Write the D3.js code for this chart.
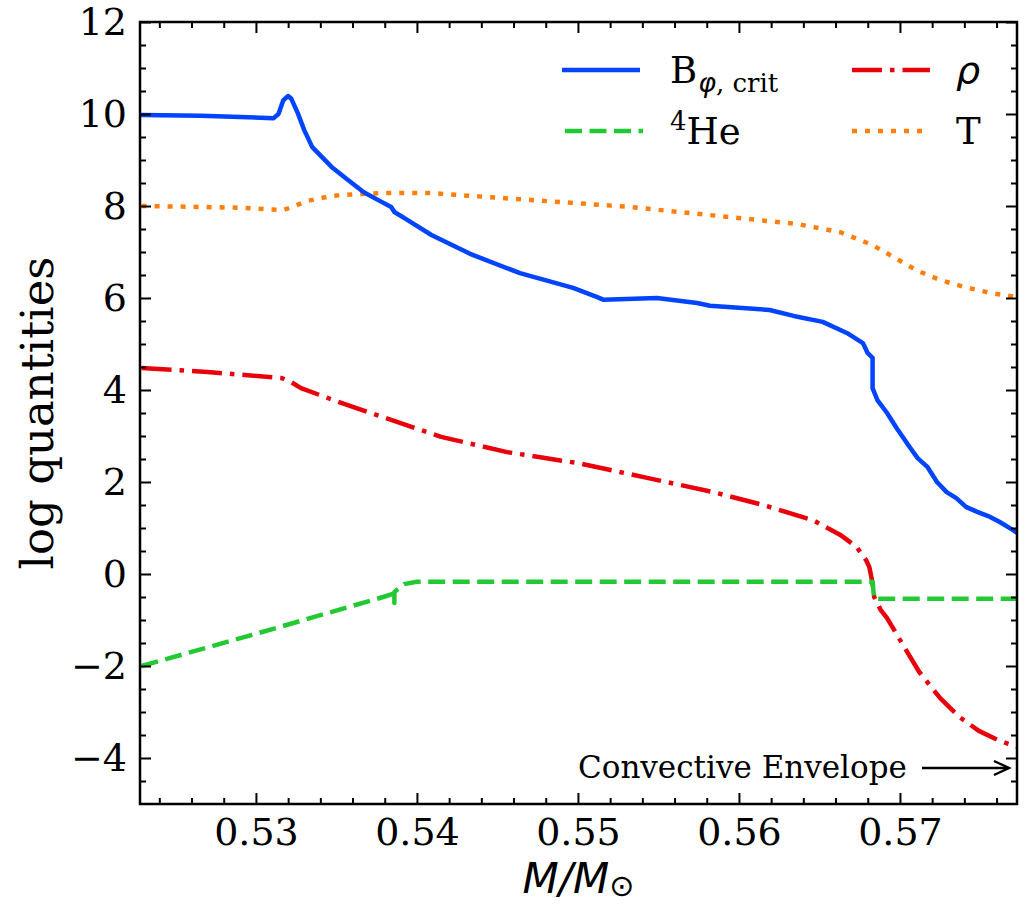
<!DOCTYPE html>
<html>
<head>
<meta charset="utf-8">
<script src="https://cdn.jsdelivr.net/npm/d3@7"></script>
<style>
  html, body { margin: 0; padding: 0; background: #fff; }
  svg { display: block; }
</style>
</head>
<body>
<svg id="chart" width="1026" height="907"></svg>
<script>
// ---- data (mass coordinate M/Msun, log value) ----
const bCrit = [
  [0.5229, 9.98], [0.5266, 9.96], [0.5311, 9.91], [0.5314, 10.0], [0.5317, 10.30],
  [0.5320, 10.39], [0.5322, 10.33], [0.5326, 10.02], [0.5330, 9.65], [0.5335, 9.28],
  [0.5347, 8.85], [0.5357, 8.57], [0.5367, 8.30], [0.5378, 8.09], [0.5384, 7.98],
  [0.5386, 7.87], [0.5394, 7.70], [0.5409, 7.37], [0.5433, 6.96], [0.5464, 6.54],
  [0.5497, 6.22], [0.5512, 6.02], [0.5516, 5.96], [0.5549, 6.00], [0.5574, 5.89],
  [0.5582, 5.83], [0.5619, 5.74], [0.5634, 5.61], [0.5652, 5.48], [0.5667, 5.24],
  [0.5677, 5.02], [0.5680, 4.80], [0.5683, 4.70], [0.5683, 4.04], [0.5686, 3.78],
  [0.5692, 3.50], [0.5698, 3.17], [0.5706, 2.76], [0.5711, 2.52], [0.5717, 2.33],
  [0.5723, 2.00], [0.5729, 1.78], [0.5735, 1.65], [0.5741, 1.46], [0.5748, 1.35],
  [0.5756, 1.24], [0.5762, 1.13], [0.5770, 0.96], [0.5773, 0.89]
];
const he4 = [
  [0.5229, -2.00], [0.5305, -1.25], [0.5379, -0.50], [0.5385, -0.43], [0.5386, -0.63],
  [0.5386, -0.39], [0.5392, -0.22], [0.5400, -0.17], [0.5683, -0.17], [0.5684, -0.54],
  [0.5773, -0.54]
];
const rho = [
  [0.5229, 4.48], [0.5270, 4.39], [0.5316, 4.26], [0.5322, 4.17], [0.5328, 4.04],
  [0.5353, 3.72], [0.5384, 3.35], [0.5415, 2.98], [0.5456, 2.65], [0.5500, 2.41],
  [0.5543, 2.09], [0.5584, 1.78], [0.5615, 1.50], [0.5646, 1.17], [0.5663, 0.85],
  [0.5673, 0.59], [0.5679, 0.30], [0.5681, 0.15], [0.5683, -0.20], [0.5684, -0.50],
  [0.5688, -0.78], [0.5692, -0.96], [0.5700, -1.43], [0.5712, -2.13], [0.5725, -2.70],
  [0.5737, -3.11], [0.5749, -3.41], [0.5762, -3.63], [0.5773, -3.76]
];
const temp = [
  [0.5229, 8.00], [0.5266, 7.98], [0.5293, 7.96], [0.5317, 7.91], [0.5324, 8.00],
  [0.5332, 8.11], [0.5347, 8.22], [0.5363, 8.26], [0.5378, 8.28], [0.5409, 8.28],
  [0.5471, 8.13], [0.5532, 7.98], [0.5594, 7.76], [0.5636, 7.61], [0.5663, 7.43],
  [0.5683, 7.15], [0.5698, 6.85], [0.5711, 6.59], [0.5725, 6.39], [0.5740, 6.24],
  [0.5756, 6.11], [0.5773, 6.02]
];
const xTicks = [0.53, 0.54, 0.55, 0.56, 0.57];
const yTicks = [-4, -2, 0, 2, 4, 6, 8, 10, 12];
const xDomain = [0.5228, 0.57727];
const yDomain = [-5, 12];
const annotationText = "Convective Envelope";

// ---- layout ----
const L = 140, R = 1017, T = 22, B = 804;
const svg = d3.select("#chart");
const x = d3.scaleLinear().domain(xDomain).range([L, R]);
const y = d3.scaleLinear().domain(yDomain).range([B, T]);

const serif = "DejaVu Serif, serif";
const sans = "DejaVu Sans, sans-serif";
const LW = 4.5;

svg.append("defs").append("clipPath").attr("id", "clip")
  .append("rect").attr("x", L).attr("y", T).attr("width", R - L).attr("height", B - T);

const line = d3.line().x(d => x(d[0])).y(d => y(d[1]));
const series = [
  { data: rho, color: "#e8000b", dash: "30,8,4.5,8" },
  { data: he4, color: "#22c932", dash: "17,7.5" },
  { data: temp, color: "#ff7f0e", dash: "5,8" },
  { data: bCrit, color: "#0044ff", dash: null }
];
const g = svg.append("g").attr("clip-path", "url(#clip)");
series.forEach(s => {
  g.append("path").datum(s.data).attr("d", line)
    .attr("fill", "none").attr("stroke", s.color).attr("stroke-width", LW)
    .attr("stroke-dasharray", s.dash).attr("stroke-linejoin", "round")
    .attr("stroke-linecap", s.dash ? "butt" : "round");
});

// ---- axes ----
const minorX = d3.range(0.524, 0.5772, 0.002).filter(v => !xTicks.some(t => Math.abs(t - v) < 1e-6));
const minorY = d3.range(-4.5, 12, 0.5).filter(v => !yTicks.some(t => Math.abs(t - v) < 1e-6));
function styleAxis(sel) {
  sel.select(".domain").remove();
  sel.selectAll("line").attr("stroke", "#000").attr("stroke-width", 2);
  sel.selectAll("text").attr("font-family", serif).attr("font-size", 38).attr("fill", "#000");
}
svg.append("g").attr("transform", `translate(0,${B})`)
  .call(d3.axisBottom(x).tickValues(xTicks).tickSizeInner(-11).tickSizeOuter(0).tickPadding(14).tickFormat(d3.format(".2f")))
  .call(styleAxis);
svg.append("g").attr("transform", `translate(0,${B})`)
  .call(d3.axisBottom(x).tickValues(minorX).tickSizeInner(-6).tickSizeOuter(0).tickFormat(""))
  .call(styleAxis);
svg.append("g").attr("transform", `translate(0,${T})`)
  .call(d3.axisTop(x).tickValues(xTicks).tickSizeInner(-11).tickSizeOuter(0).tickFormat(""))
  .call(styleAxis);
svg.append("g").attr("transform", `translate(0,${T})`)
  .call(d3.axisTop(x).tickValues(minorX).tickSizeInner(-6).tickSizeOuter(0).tickFormat(""))
  .call(styleAxis);
svg.append("g").attr("transform", `translate(${L},0)`)
  .call(d3.axisLeft(y).tickValues(yTicks).tickSizeInner(-11).tickSizeOuter(0).tickPadding(13).tickFormat(d3.format("d")))
  .call(styleAxis);
svg.append("g").attr("transform", `translate(${L},0)`)
  .call(d3.axisLeft(y).tickValues(minorY).tickSizeInner(-6).tickSizeOuter(0).tickFormat(""))
  .call(styleAxis);
svg.append("g").attr("transform", `translate(${R},0)`)
  .call(d3.axisRight(y).tickValues(yTicks).tickSizeInner(-11).tickSizeOuter(0).tickFormat(""))
  .call(styleAxis);
svg.append("g").attr("transform", `translate(${R},0)`)
  .call(d3.axisRight(y).tickValues(minorY).tickSizeInner(-6).tickSizeOuter(0).tickFormat(""))
  .call(styleAxis);

svg.append("rect").attr("x", L).attr("y", T).attr("width", R - L).attr("height", B - T)
  .attr("fill", "none").attr("stroke", "#000").attr("stroke-width", 2.5);

// axis labels
svg.append("text").attr("transform", `translate(53,${(T + B) / 2}) rotate(-90)`)
  .attr("text-anchor", "middle").attr("font-family", serif).attr("font-size", 45)
  .text("log quantities");
const xl = svg.append("text").attr("x", (L + R) / 2).attr("y", 893)
  .attr("text-anchor", "middle").attr("font-family", sans).attr("font-size", 42);
xl.append("tspan").attr("font-style", "italic").text("M/M");
xl.append("tspan").attr("font-size", 30).attr("dy", 3).text("\u2299");

// ---- legend ----
const leg = svg.append("g");
const legItems = [
  { s: series[3], lx: 562, ly: 70 },
  { s: series[1], lx: 565, ly: 131 },
  { s: series[0], lx: 852, ly: 70 },
  { s: series[2], lx: 852, ly: 131 }
];
legItems.forEach(it => {
  leg.append("line").attr("x1", it.lx).attr("x2", it.lx + 78).attr("y1", it.ly).attr("y2", it.ly)
    .attr("stroke", it.s.color).attr("stroke-width", LW).attr("stroke-dasharray", it.s.dash);
});
const t1 = leg.append("text").attr("x", 670).attr("y", 83).attr("font-family", serif).attr("font-size", 37);
t1.append("tspan").text("B");
t1.append("tspan").attr("dx", 1).attr("dy", 9).attr("font-size", 27).attr("font-family", sans).attr("font-style", "italic").text("\u03C6");
t1.append("tspan").attr("font-size", 26).text(", crit");
const t2 = leg.append("text").attr("x", 670).attr("y", 144).attr("font-family", serif).attr("font-size", 37);
t2.append("tspan").attr("font-size", 26).attr("dy", -14).text("4");
t2.append("tspan").attr("dy", 14).text("He");
leg.append("text").attr("x", 956).attr("y", 83).attr("font-family", sans).attr("font-style", "italic")
  .attr("font-size", 38).text("\u03C1");
leg.append("text").attr("x", 956).attr("y", 144).attr("font-family", serif).attr("font-size", 37).text("T");

// ---- annotation ----
svg.append("text").attr("x", 578).attr("y", 778).attr("font-family", serif).attr("font-size", 31)
  .text(annotationText);
svg.append("line").attr("x1", 922).attr("x2", 1009).attr("y1", 768).attr("y2", 768)
  .attr("stroke", "#000").attr("stroke-width", 2.4);
svg.append("path").attr("d", "M994,761 L1009,768 L994,775").attr("fill", "none")
  .attr("stroke", "#000").attr("stroke-width", 2.4);
</script>
</body>
</html>
